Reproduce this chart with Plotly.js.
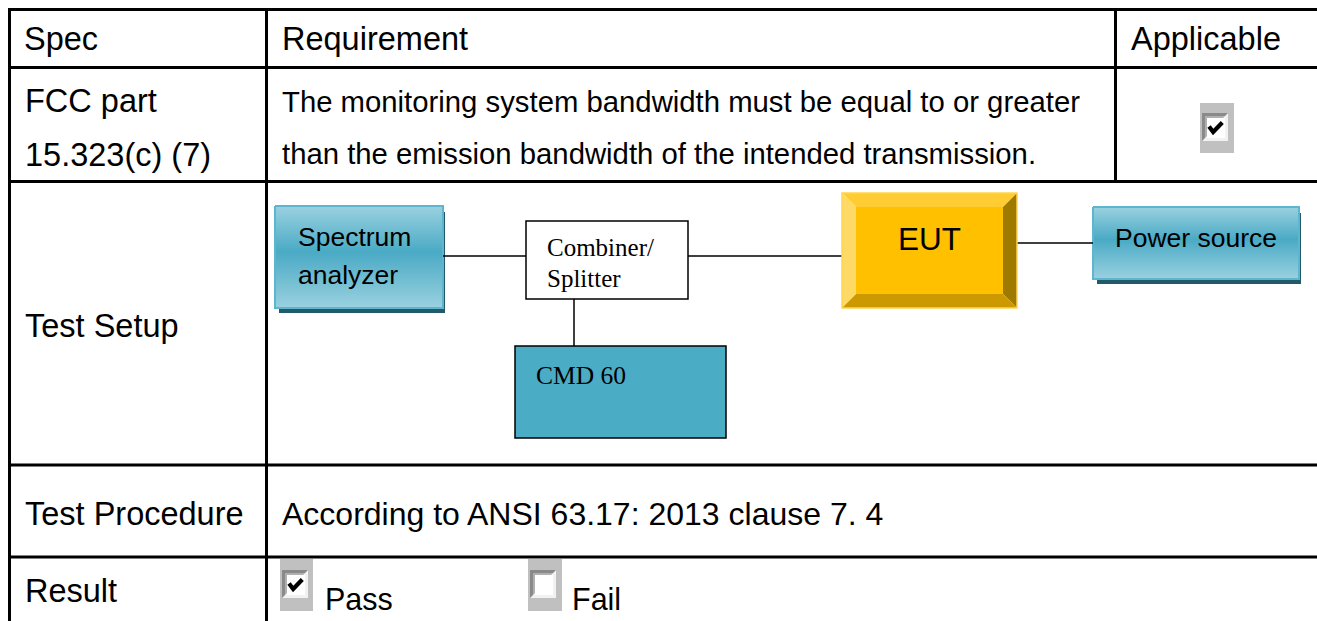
<!DOCTYPE html>
<html>
<head>
<meta charset="utf-8">
<script src="https://cdn.plot.ly/plotly-3.0.1.min.js"></script>
<style>html,body{margin:0;padding:0;background:#fff;} #chart{width:1317px;height:621px;}</style>
</head>
<body>
<div id="chart"></div>
<script>
// ---- table content ----
const headerCells = ['Spec', 'Requirement', 'Applicable'];
const specLines = ['FCC part', '15.323(c) (7)'];
const requirementLines = ['The monitoring system bandwidth must be equal to or greater',
                          'than the emission bandwidth of the intended transmission.'];
const rowLabels = ['Test Setup', 'Test Procedure', 'Result'];
const procedureText = 'According to ANSI 63.17: 2013 clause 7. 4';
const resultOptions = ['Pass', 'Fail'];
const resultChecked = [true, false];
const applicableChecked = true;
// ---- setup diagram labels ----
const analyzerLines = ['Spectrum', 'analyzer'];
const combinerLines = ['Combiner/', 'Splitter'];
const testerLabel = 'CMD 60';
const eutLabel = 'EUT';
const powerLabel = 'Power source';

// ---- layout geometry ----
const W = 1317, H = 621;
const tableLeft = 9.5, col1 = 266.5, colApp = 1115.5;
const rowLines = [9.5, 67.5, 181.5, 465, 557];
const SANS = 'Liberation Sans, Arial, sans-serif';
const SERIF = 'Liberation Serif, Times New Roman, serif';

const shapes = [];
const annotations = [];
const traces = [];

function line(x0, y0, x1, y1, w, c, layer) {
  shapes.push({type: 'line', xref: 'x', yref: 'y', x0, y0, x1, y1,
    line: {color: c || '#000', width: w}, layer: layer || 'above'});
}
function rect(x0, y0, x1, y1, fill, lc, lw, layer) {
  shapes.push({type: 'rect', xref: 'x', yref: 'y', x0, y0, x1, y1,
    fillcolor: fill, line: {color: lc || 'rgba(0,0,0,0)', width: lw || 0}, layer: layer || 'above'});
}
function poly(pts, fill, layer) {
  const d = 'M' + pts.map(p => p[0] + ',' + p[1]).join(' L') + ' Z';
  shapes.push({type: 'path', xref: 'x', yref: 'y', path: d, fillcolor: fill,
    line: {width: 0, color: 'rgba(0,0,0,0)'}, layer: layer || 'above'});
}
function text(t, x, y, size, opts) {
  opts = opts || {};
  annotations.push({text: t, x, y, xref: 'x', yref: 'y', showarrow: false,
    xanchor: opts.xanchor || 'left', yanchor: 'middle', align: 'left',
    font: {family: opts.family || SANS, size: size, color: '#000'}, borderpad: 0});
}
function checkbox(bx0, by0, bx1, by1, ix0, iy0, ix1, iy1, checked) {
  rect(bx0, by0, bx1, by1, '#C0C0C0');
  rect(ix0, iy0, ix1, iy1, '#F2F2F2');
  // sunken frame
  poly([[ix0, iy0], [ix1, iy0], [ix1 - 3, iy0 + 3], [ix0 + 3, iy0 + 3], [ix0 + 3, iy1 - 3], [ix0, iy1]], '#8A8A8A');
  poly([[ix0 + 3, iy0 + 3], [ix1 - 3, iy0 + 3], [ix1 - 5, iy0 + 5], [ix0 + 5, iy0 + 5], [ix0 + 5, iy1 - 5], [ix0 + 3, iy1 - 3]], '#B0B0B0');
  rect(ix0 + 5, iy0 + 5, ix1 - 3, iy1 - 3, '#FFFFFF');
  if (checked) {
    const w = ix1 - ix0, h = iy1 - iy0;
    shapes.push({type: 'path', xref: 'x', yref: 'y',
      path: 'M' + (ix0 + 0.27 * w) + ',' + (iy0 + 0.48 * h) + ' L' + (ix0 + 0.43 * w) + ',' + (iy0 + 0.68 * h) +
            ' L' + (ix0 + 0.78 * w) + ',' + (iy0 + 0.34 * h),
      line: {color: '#000', width: 4.2}, layer: 'above'});
  }
}
function blueBox(x0, y0, x1, y1) {
  rect(x0 + 4, y0 + 6, x1 + 2, y1 + 5, '#215A68', null, 0, 'below');
  traces.push({x: [x0, x1, x1, x0, x0], y: [y0, y0, y1, y1, y0], type: 'scatter', mode: 'lines',
    fill: 'toself', hoverinfo: 'skip', showlegend: false,
    line: {color: '#5DB6CD', width: 2},
    fillgradient: {type: 'vertical', colorscale: [[0, '#9AD1E0'], [0.55, '#4AAAC5'], [1, '#9AD1E0']]}});
}

// ---- table grid ----
rowLines.forEach(y => line(8, y, W, y, 3));
line(tableLeft, 8, tableLeft, H, 3);
line(col1, rowLines[0], col1, H, 3);
line(colApp, rowLines[0], colApp, rowLines[2], 3);

// ---- table texts ----
text(headerCells[0], 23, 39, 32.5);
text(headerCells[1], 281, 39, 32.5);
text(headerCells[2], 1130, 39, 32.5);
text(specLines[0], 24, 100.5, 32.5);
text(specLines[1], 24, 155, 32.5);
text(requirementLines[0], 281, 101, 29.3);
text(requirementLines[1], 281, 153, 29.3);
text(rowLabels[0], 24, 326, 32.5);
text(rowLabels[1], 24, 513.5, 32.5);
text(procedureText, 281, 513.5, 32);
text(rowLabels[2], 24, 591, 32.5);
text(resultOptions[0], 324, 598.5, 30.5);
text(resultOptions[1], 571, 598.5, 30.5);

checkbox(1200, 103, 1234, 153, 1202, 113, 1228, 141, applicableChecked);
checkbox(280, 559, 313, 611, 282, 570, 308, 598, resultChecked[0]);
checkbox(528, 559, 562, 611, 530, 570, 556, 598, resultChecked[1]);

// ---- setup diagram ----
// connectors
line(443, 256, 526, 256, 1.5);
line(688, 256, 842, 256, 1.5);
line(574, 299, 574, 346, 1.5);
line(1017, 243, 1093, 243, 1.5);
// spectrum analyzer & power source
blueBox(275, 206, 443, 308);
blueBox(1093, 207, 1299, 279);
text(analyzerLines[0], 297, 237, 26.5);
text(analyzerLines[1], 297, 275, 26.5);
text(powerLabel, 1114, 237.5, 26.5);
// combiner
rect(526, 221, 688, 299, '#FFFFFF', '#000', 1.5);
text(combinerLines[0], 546, 247.5, 25, {family: SERIF});
text(combinerLines[1], 546, 278, 25, {family: SERIF});
// CMD 60
rect(515, 346, 726, 438, '#4BACC6', '#000', 1.5);
text(testerLabel, 535, 375, 25.5, {family: SERIF});
// EUT bevelled box
const ex0 = 842, ey0 = 193, ex1 = 1017, ey1 = 308, b = 14;
rect(ex0 + b, ey0 + b, ex1 - b, ey1 - b, '#FFC000');
poly([[ex0, ey0], [ex1, ey0], [ex1 - b, ey0 + b], [ex0 + b, ey0 + b]], '#FFCD33');
poly([[ex0, ey0], [ex0 + b, ey0 + b], [ex0 + b, ey1 - b], [ex0, ey1]], '#FFD966');
poly([[ex1, ey0], [ex1, ey1], [ex1 - b, ey1 - b], [ex1 - b, ey0 + b]], '#9E7A00');
poly([[ex0, ey1], [ex1, ey1], [ex1 - b, ey1 - b], [ex0 + b, ey1 - b]], '#CC9A00');
rect(ex0, ey0, ex1, ey1, 'rgba(0,0,0,0)', '#FFD54F', 1.5);
text(eutLabel, 929, 238.5, 31.5, {xanchor: 'center'});

const layout = {
  width: W, height: H,
  margin: {l: 0, r: 0, t: 0, b: 0, pad: 0},
  paper_bgcolor: '#FFFFFF', plot_bgcolor: '#FFFFFF',
  xaxis: {range: [0, W], visible: false, fixedrange: true},
  yaxis: {range: [H, 0], visible: false, fixedrange: true},
  shapes: shapes, annotations: annotations, showlegend: false
};
Plotly.newPlot('chart', traces, layout, {displayModeBar: false, staticPlot: true});
</script>
</body>
</html>
